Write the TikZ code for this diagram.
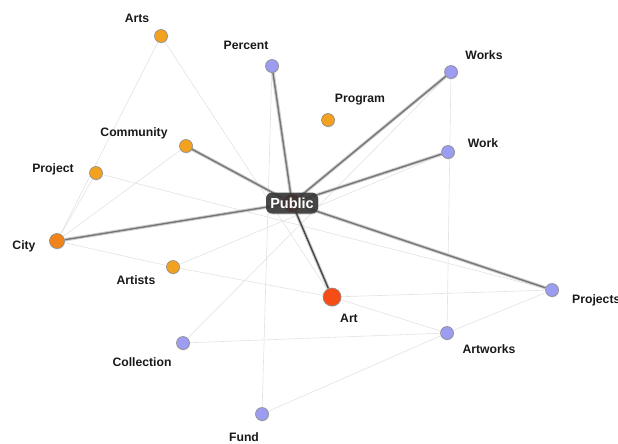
\documentclass[tikz,border=0pt]{standalone}
\usepackage{fontspec}
\setmainfont{Liberation Sans}
\usetikzlibrary{shadows, backgrounds}
\definecolor{warm}{RGB}{243,162,32}
\definecolor{citywarm}{RGB}{240,132,26}
\definecolor{hot}{RGB}{246,76,22}
\definecolor{cool}{RGB}{156,156,240}
\definecolor{faint}{RGB}{226,226,226}
\definecolor{strong}{RGB}{118,118,118}
\definecolor{halo}{RGB}{208,208,208}

\begin{document}
\begin{tikzpicture}[x=1pt, y=-1pt,
  term/.style={
    circle, draw=black!45, line width=0.6pt,
    minimum size=13pt, inner sep=0pt,
    drop shadow={opacity=0.25, shadow xshift=0.6pt, shadow yshift=-1pt}
  },
  word/.style={font=\bfseries\fontsize{12.2}{14}\selectfont, text=black!90, inner sep=0pt},
  weak/.style={draw=faint, line width=0.6pt},
  tie/.style={draw=strong, line width=1.4pt, preaction={draw=halo, line width=3.4pt}}
]
  \useasboundingbox (0,0) rectangle (618,444);

  % terms around the hub
  \node[term, fill=warm] (arts) at (161,36) {};
  \node[term, fill=cool] (percent) at (272,66) {};
  \node[term, fill=cool] (works) at (451,72) {};
  \node[term, fill=warm] (program) at (328,120) {};
  \node[term, fill=warm] (community) at (186,146) {};
  \node[term, fill=warm] (project) at (96,173) {};
  \node[term, fill=cool] (work) at (448,152) {};
  \node[term, fill=citywarm, minimum size=15pt] (city) at (57,241) {};
  \node[term, fill=warm] (artists) at (173,267) {};
  \node[term, fill=hot, minimum size=18pt] (art) at (332,297) {};
  \node[term, fill=cool] (projects) at (552,290) {};
  \node[term, fill=cool] (artworks) at (447,333) {};
  \node[term, fill=cool] (collection) at (183,343) {};
  \node[term, fill=cool] (fund) at (262,414) {};

  \node[word] (arts-t) at (137,18) {Arts};
  \node[word] (percent-t) at (246,45) {Percent};
  \node[word] (works-t) at (484,55) {Works};
  \node[word] (program-t) at (360,100) {Program};
  \node[word] (community-t) at (134,133) {Community};
  \node[word] (project-t) at (53,169) {Project};
  \node[word] (work-t) at (483,143) {Work};
  \node[word] (city-t) at (24,246) {City};
  \node[word] (artists-t) at (136,280) {Artists};
  \node[word] (art-t) at (349,318) {Art};
  \node[word, anchor=west] (projects-t) at (572,300) {Projects};
  \node[word] (artworks-t) at (489,349) {Artworks};
  \node[word] (collection-t) at (142,362) {Collection};
  \node[word] (fund-t) at (244,437) {Fund};

  % hub
  \node[circle, fill=hot!70!black, minimum size=18pt, inner sep=0pt] (core) at (292,203) {};
  \node[fill=black!80, fill opacity=0.88, text opacity=1, text=white,
        rounded corners=6pt, minimum width=52pt, minimum height=21pt, inner sep=2pt,
        font=\bfseries\fontsize{14.5}{16}\selectfont,
        drop shadow={opacity=0.3, shadow xshift=0.6pt, shadow yshift=-1pt}] (public) at (292,203) {Public};

  \begin{scope}[on background layer]
    \draw[weak] (arts) -- (city);
    \draw[weak] (project) -- (city);
    \draw[weak] (community) -- (city);
    \draw[weak] (arts) -- (art);
    \draw[weak] (city) -- (artists);
    \draw[weak] (artists) -- (art);
    \draw[weak] (artists) -- (work);
    \draw[weak] (collection) -- (works);
    \draw[weak] (collection) -- (artworks);
    \draw[weak] (fund) -- (percent);
    \draw[weak] (fund) -- (artworks);
    \draw[weak] (works) -- (artworks);
    \draw[weak] (project) -- (projects);
    \draw[weak] (art) -- (projects);
    \draw[weak] (art) -- (artworks);
    \draw[weak] (artworks) -- (projects);

    \draw[tie] (core) -- (percent);
    \draw[tie] (core) -- (works);
    \draw[tie] (core) -- (work);
    \draw[tie] (core) -- (community);
    \draw[tie] (core) -- (city);
    \draw[tie] (core) -- (projects);
    \draw[tie, draw=black!72] (core) -- (art);
  \end{scope}
\end{tikzpicture}
\end{document}
